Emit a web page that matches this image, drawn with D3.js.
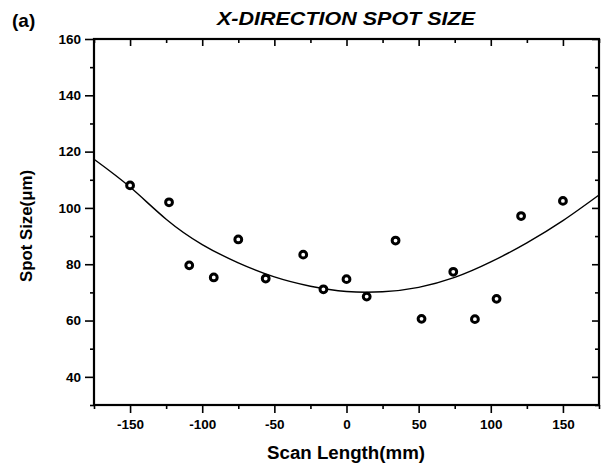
<!DOCTYPE html>
<html>
<head>
<meta charset="utf-8">
<script src="https://cdn.jsdelivr.net/npm/d3@7"></script>
<style>
  body { margin: 0; background: #fff; }
  svg { display: block; }
  text { font-family: "Liberation Sans", Arial, sans-serif; font-weight: bold; fill: #000; }
</style>
</head>
<body>
<div id="chart"></div>
<script>
// measured spot size (um) vs scan position (mm)
const scanPos = [-150, -123, -109, -92, -75, -56, -30, -16, 0, 14, 34, 52, 74, 89, 104, 121, 150];
const spotSize = [108, 102, 79.6, 75.3, 88.8, 74.9, 83.4, 71.1, 74.7, 68.5, 88.4, 60.6, 77.3, 60.5, 67.7, 97.1, 102.5];

// fitted curve, every 25 mm
const fitPos = [-175, -150, -125, -100, -75, -50, -25, 0, 25, 50, 75, 100, 125, 150, 175];
const fitSize = [117.3, 107.4, 96, 87, 80.5, 75.5, 72.2, 70.3, 70.2, 71.8, 75.3, 80.8, 87.6, 95.5, 104.6];

const xTicks = [-150, -100, -50, 0, 50, 100, 150];
const yTicks = [40, 60, 80, 100, 120, 140, 160];

const W = 608, H = 465;
const margin = { top: 39, right: 9, bottom: 60, left: 94 };
const width = W - margin.left - margin.right;
const height = H - margin.top - margin.bottom;

const svg = d3.select('#chart').append('svg')
    .attr('width', W)
    .attr('height', H);

const g = svg.append('g')
    .attr('transform', `translate(${margin.left},${margin.top})`);

const x = d3.scaleLinear().domain([-175, 175]).range([0, width]);
const y = d3.scaleLinear().domain([30, 160]).range([height, 0]);

const minorX = d3.range(-175, 176, 25);
const minorY = d3.range(30, 161, 10);
const plain = d => String(d);   // keep the short hyphen like the original

function styleAxis(sel) {
    sel.select('.domain').remove();
    sel.selectAll('line').attr('stroke', '#000').attr('stroke-width', 1.6);
}

// bottom axis (outward ticks)
g.append('g')
    .attr('transform', `translate(0,${height})`)
    .call(d3.axisBottom(x).tickValues(minorX.filter(v => !xTicks.includes(v))).tickSize(4).tickFormat(''))
    .call(styleAxis);
g.append('g')
    .attr('transform', `translate(0,${height})`)
    .call(d3.axisBottom(x).tickValues(xTicks).tickSize(8).tickPadding(6).tickFormat(plain))
    .call(styleAxis)
    .selectAll('text')
        .style('font-size', '13.5px');

// left axis (outward ticks)
g.append('g')
    .call(d3.axisLeft(y).tickValues(minorY.filter(v => !yTicks.includes(v))).tickSize(4).tickFormat(''))
    .call(styleAxis);
g.append('g')
    .call(d3.axisLeft(y).tickValues(yTicks).tickSize(9).tickPadding(4).tickFormat(plain))
    .call(styleAxis)
    .selectAll('text')
        .style('font-size', '13.5px');

// top axis (inward ticks)
g.append('g')
    .call(d3.axisTop(x).tickValues(minorX.filter(v => !xTicks.includes(v))).tickSize(-4).tickFormat(''))
    .call(styleAxis);
g.append('g')
    .call(d3.axisTop(x).tickValues(xTicks).tickSize(-7).tickFormat(''))
    .call(styleAxis);

// right axis (inward ticks)
g.append('g')
    .attr('transform', `translate(${width},0)`)
    .call(d3.axisRight(y).tickValues(minorY.filter(v => !yTicks.includes(v))).tickSize(-4).tickFormat(''))
    .call(styleAxis);
g.append('g')
    .attr('transform', `translate(${width},0)`)
    .call(d3.axisRight(y).tickValues(yTicks).tickSize(-7).tickFormat(''))
    .call(styleAxis);

// frame
g.append('rect')
    .attr('x', 0).attr('y', 0)
    .attr('width', width).attr('height', height)
    .attr('fill', 'none')
    .attr('stroke', '#000')
    .attr('stroke-width', 2.2);

// fit curve
const line = d3.line()
    .x((d, i) => x(fitPos[i]))
    .y(d => y(d))
    .curve(d3.curveNatural);

g.append('path')
    .datum(fitSize)
    .attr('d', line)
    .attr('fill', 'none')
    .attr('stroke', '#000')
    .attr('stroke-width', 1.4);

// data points
g.append('g')
    .selectAll('circle')
    .data(spotSize)
    .join('circle')
        .attr('cx', (d, i) => x(scanPos[i]))
        .attr('cy', d => y(d))
        .attr('r', 3.4)
        .attr('fill', '#fff')
        .attr('stroke', '#000')
        .attr('stroke-width', 3);

// labels
svg.append('text')
    .attr('x', 346)
    .attr('y', 25)
    .attr('text-anchor', 'middle')
    .attr('textLength', 258)
    .attr('lengthAdjust', 'spacingAndGlyphs')
    .style('font-size', '19px')
    .style('font-style', 'italic')
    .text('X-DIRECTION SPOT SIZE');

svg.append('text')
    .attr('x', 12)
    .attr('y', 27)
    .style('font-size', '19px')
    .text('(a)');

svg.append('text')
    .attr('x', 346)
    .attr('y', 459)
    .attr('text-anchor', 'middle')
    .attr('textLength', 158)
    .attr('lengthAdjust', 'spacingAndGlyphs')
    .style('font-size', '18px')
    .text('Scan Length(mm)');

svg.append('text')
    .attr('transform', 'translate(32,226) rotate(-90)')
    .attr('text-anchor', 'middle')
    .attr('textLength', 112)
    .attr('lengthAdjust', 'spacingAndGlyphs')
    .style('font-size', '17px')
    .text('Spot Size(\u03bcm)');
</script>
</body>
</html>
